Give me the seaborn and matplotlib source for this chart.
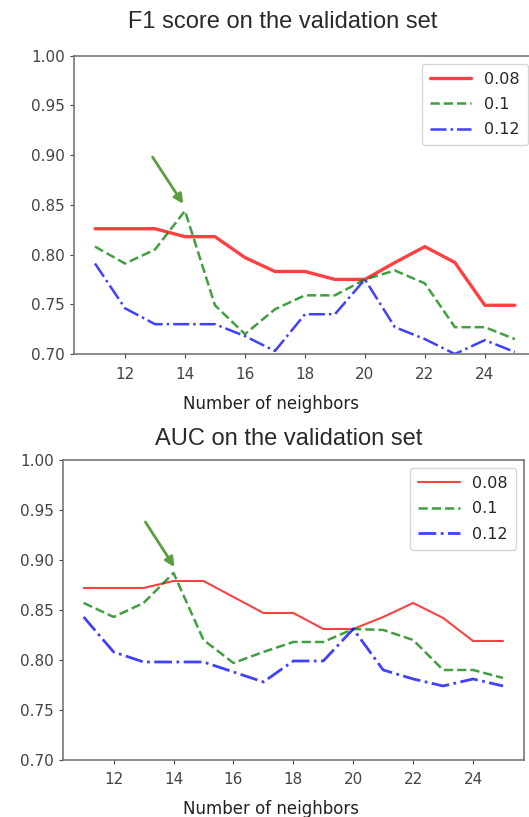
import numpy as np
import pandas as pd
import matplotlib
matplotlib.use("Agg")
import matplotlib.pyplot as plt
import seaborn as sns

# === Data ===
neighbors = list(range(11, 26))
rates = ["0.08", "0.1", "0.12"]

f1_008 = [0.826, 0.826, 0.826, 0.818, 0.818, 0.797, 0.783, 0.783, 0.775, 0.775,
          0.792, 0.808, 0.792, 0.749, 0.749]
f1_010 = [0.808, 0.791, 0.805, 0.844, 0.749, 0.720, 0.745, 0.759, 0.759, 0.775,
          0.784, 0.771, 0.727, 0.727, 0.715]
f1_012 = [0.791, 0.746, 0.730, 0.730, 0.730, 0.718, 0.703, 0.740, 0.740, 0.775,
          0.727, 0.715, 0.700, 0.714, 0.702]

auc_008 = [0.872, 0.872, 0.872, 0.879, 0.879, 0.863, 0.847, 0.847, 0.831, 0.831,
           0.843, 0.857, 0.842, 0.819, 0.819]
auc_010 = [0.857, 0.843, 0.857, 0.887, 0.820, 0.797, 0.808, 0.818, 0.818, 0.831,
           0.830, 0.820, 0.790, 0.790, 0.782]
auc_012 = [0.843, 0.808, 0.798, 0.798, 0.798, 0.788, 0.778, 0.799, 0.799, 0.831,
           0.790, 0.781, 0.774, 0.781, 0.774]

panels = [
    ("F1 score on the validation set", [f1_008, f1_010, f1_012]),
    ("AUC on the validation set", [auc_008, auc_010, auc_012]),
]

# === Styling ===
sns.set_style("ticks")
plt.rcParams["font.family"] = ["DejaVu Sans"]

colors = ["red", "green", "blue"]
styles = ["-", "--", "-."]
arrow_color = "#5d9e3c"

fig = plt.figure(figsize=(5.29, 8.17), dpi=100)
ax_top = fig.add_axes([0.1399, 0.5667, 0.873, 0.3651])
ax_bot = fig.add_axes([0.1185, 0.0698, 0.872, 0.3672])

# per-panel tweaks: arrow (start, tip), line widths, title pos, xlabel pos
arrows = [((12.92, 0.898), (13.94, 0.851)), ((13.06, 0.938), (14.03, 0.893))]
widths = [[2.4, 1.8, 1.8], [1.5, 1.8, 2.0]]
title_pos = [(0.452, 1.093), (0.489, 1.05)]
xlabel_pos = [(0.426, -0.137), (0.452, -0.133)]

for ax, (title, series), (start, tip), lws, tp, xp in zip(
        [ax_top, ax_bot], panels, arrows, widths, title_pos, xlabel_pos):
    for vals, rate, c, ls, lw in zip(series, rates, colors, styles, lws):
        sns.lineplot(x=neighbors, y=vals, ax=ax, color=c, linestyle=ls,
                     linewidth=lw, alpha=0.75, label=rate)
    ax.annotate("", xy=tip, xytext=start,
                arrowprops=dict(arrowstyle="-|>", color=arrow_color, lw=2,
                                mutation_scale=14, shrinkA=0, shrinkB=0))
    ax.set_ylim(0.70, 1.00)
    ax.set_yticks([0.70, 0.75, 0.80, 0.85, 0.90, 0.95, 1.00])
    ax.set_xticks([12, 14, 16, 18, 20, 22, 24])
    ax.tick_params(labelsize=11, colors="#444444", length=3)
    ax.tick_params(axis="x", pad=6)
    for sp in ax.spines.values():
        sp.set_color("#777777")
        sp.set_linewidth(1.2)
    ax.set_title(title, fontsize=17, family="Liberation Sans", color="#2a2a2a",
                 x=tp[0], y=tp[1], pad=0, va="baseline")
    ax.set_xlabel("Number of neighbors", fontsize=12, color="#222222")
    ax.xaxis.set_label_coords(xp[0], xp[1])
    ax.set_ylabel("")
    ax.legend(loc="upper right", fontsize=11.5, frameon=True, handlelength=2.6,
              borderpad=0.5, labelspacing=0.65)

plt.savefig("out.png", dpi=100)
plt.close()
